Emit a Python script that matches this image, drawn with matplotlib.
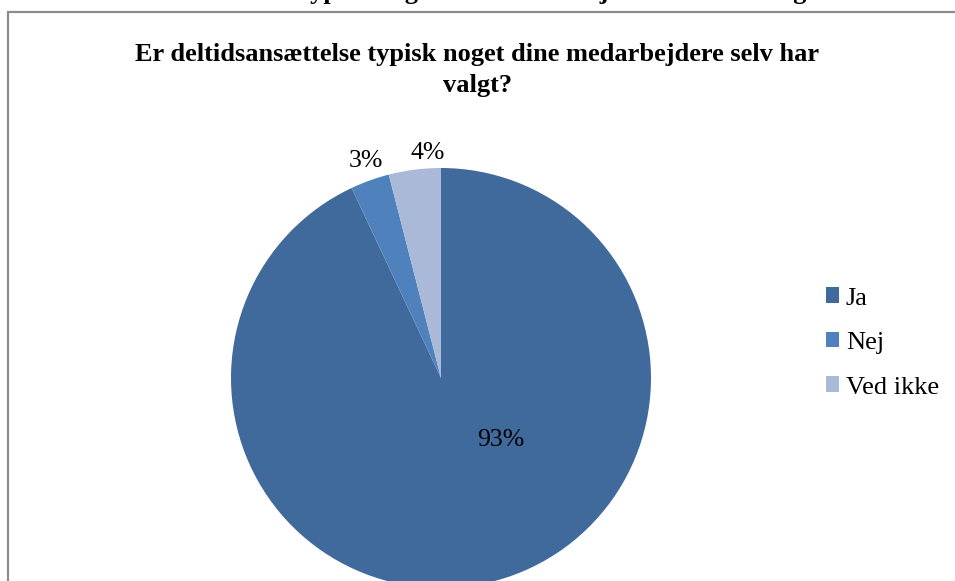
import matplotlib.pyplot as plt
from matplotlib.patches import Rectangle

# svarfordeling
kategorier = ['Ja', 'Nej', 'Ved ikke']
andele = [93, 3, 4]
farver = ['#416a9c', '#4f81bd', '#aab9d7']
etiketter = ['93%', '3%', '4%']
titel = 'Er deltidsansættelse typisk noget dine medarbejdere selv har\nvalgt?'
overskrift = 'Er deltidsansættelse typisk noget dine medarbejdere selv har valgt?'

plt.rcParams['font.family'] = ['Liberation Serif', 'DejaVu Serif']

fig = plt.figure(figsize=(9.55, 5.81), dpi=100)

# diagramramme (kun venstre og top er synlige)
ramme = Rectangle((7.5 / 955, -0.1), 1.2, 1.1 - 11.5 / 581, transform=fig.transFigure,
                  fill=False, edgecolor='#8c8c8c', linewidth=1.6)
fig.patches.append(ramme)

# afskåret figurtekst over diagrammet
fig.text(0.47, 1 + 1.0 / 581, overskrift, ha='center', va='baseline',
         fontsize=19, fontweight='bold')

fig.text(0.5, 1 - 70 / 581, titel, ha='center', va='center', fontsize=19,
         fontweight='bold', linespacing=1.5)

ax = fig.add_axes([(441 - 210) / 955, (581 - 588) / 581, 420 / 955, 420 / 581])
kiler, _ = ax.pie(andele, colors=farver, startangle=90, counterclock=False,
                  wedgeprops=dict(linewidth=0))
ax.set_xlim(-1, 1)
ax.set_ylim(-1, 1)
ax.set_aspect('equal')
ax.axis('off')

# dataetiketter
placering = [(0.286, -0.295), (-0.357, 1.035), (-0.062, 1.07)]
for tekst, (x, y) in zip(etiketter, placering):
    ax.text(x, y, tekst, ha='center', va='center', fontsize=18.5, clip_on=False)

fig.legend(kiler, kategorier, loc='center left', bbox_to_anchor=(815 / 955, 1 - 343 / 581),
           frameon=False, fontsize=19, handlelength=0.52, handleheight=0.52,
           handletextpad=0.25, labelspacing=0.85, borderaxespad=0)

fig.savefig('out.png', dpi=100)
